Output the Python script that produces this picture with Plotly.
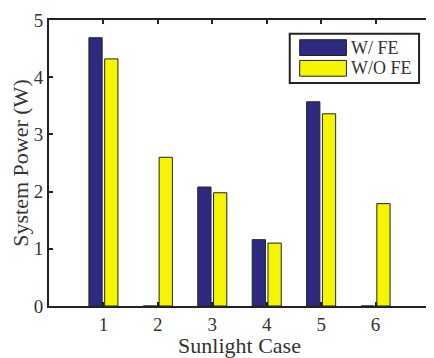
import plotly.graph_objects as go

cases = [1, 2, 3, 4, 5, 6]
series_names = ["W/ FE", "W/O FE"]
with_fe = [4.69, 0, 2.08, 1.16, 3.57, 0]
without_fe = [4.32, 2.60, 1.98, 1.10, 3.36, 1.79]
colors = ["#2e2a82", "#f5f500"]
y_ticks = [0, 1, 2, 3, 4, 5]

FONT = "Times New Roman"

fig = go.Figure()
for name, vals, col in zip(series_names, [with_fe, without_fe], colors):
    fig.add_trace(go.Bar(x=cases, y=vals, name=name,
                         marker=dict(color=col, line=dict(color="#222", width=1)), showlegend=False))

# page has an 8px body margin -> figure sized to fit inside
OFF = 8
fig.update_layout(
    width=426, height=350,
    margin=dict(l=49 - OFF, r=2, t=16 - OFF, b=52),
    plot_bgcolor="white", paper_bgcolor="white",
    barmode="group", bargap=0.42, bargroupgap=0.16,
    font=dict(family=FONT, size=19, color="#333"),
)
fig.update_xaxes(
    range=[0, 7], tickvals=cases, ticktext=[str(c) for c in cases],
    showline=True, linecolor="#222", linewidth=2, mirror="ticks",
    ticks="inside", ticklen=4, tickcolor="#222", tickwidth=1.5, showgrid=False, zeroline=False,
    ticklabeloverflow="allow",
    title=dict(text="Sunlight Case", font=dict(size=22), standoff=2),
)
fig.update_yaxes(
    range=[0, 5], tickvals=y_ticks,
    showline=True, linecolor="#222", linewidth=2, mirror="ticks",
    ticks="inside", ticklen=4, tickcolor="#222", tickwidth=1.5, showgrid=False, zeroline=False,
    ticklabeloverflow="allow",
    title=dict(text="System Power (W)", font=dict(size=22), standoff=4),
)

# custom legend box (MATLAB style, wide swatches); page pixel -> paper coords
L, R, T, B = 49, 432, 16, 306
def px(x):
    return (x - L) / (R - L)
def py(y):
    return (B - y) / (B - T)

fig.add_shape(type="rect", xref="paper", yref="paper", x0=px(291), x1=px(421), y0=py(80), y1=py(30),
              line=dict(color="#222", width=2), fillcolor="white", layer="above")
for i, (name, col) in enumerate(zip(series_names, colors)):
    yc = 44 + i * 21
    fig.add_shape(type="rect", xref="paper", yref="paper", x0=px(301), x1=px(348), y0=py(yc + 8), y1=py(yc - 8),
                  line=dict(color="#222", width=1), fillcolor=col, layer="above")
    fig.add_annotation(xref="paper", yref="paper", x=px(351), y=py(yc), text=name, showarrow=False,
                       xanchor="left", yanchor="middle", font=dict(size=18, family=FONT, color="#333"))

fig.write_html("out.html")
